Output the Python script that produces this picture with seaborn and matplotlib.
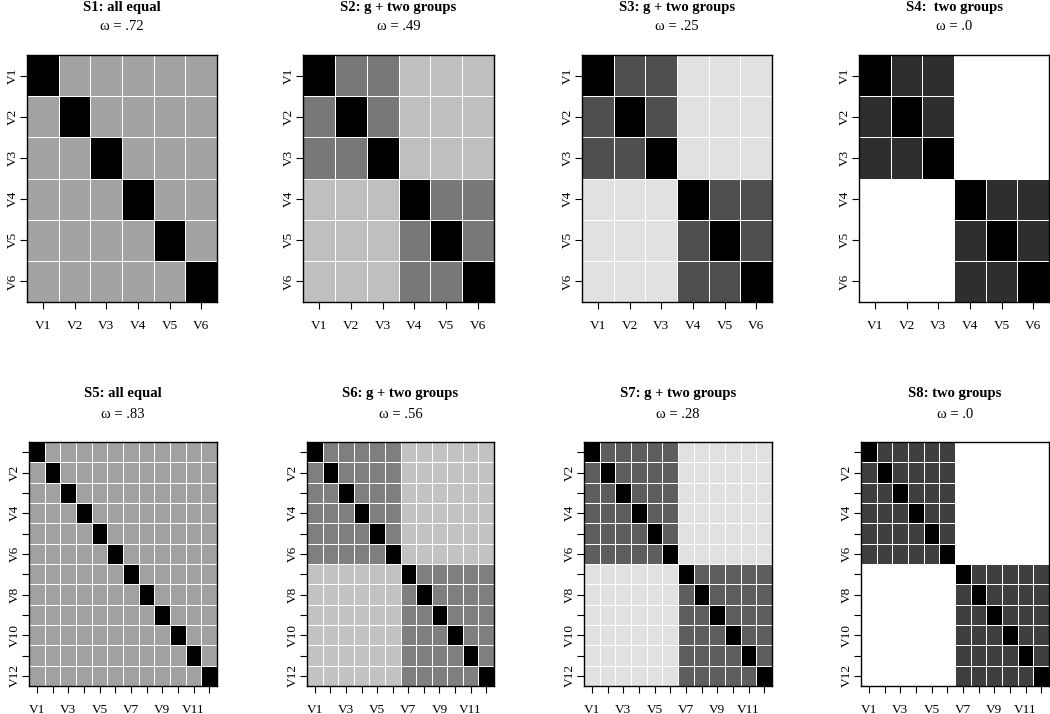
import numpy as np
import pandas as pd
import matplotlib
matplotlib.use("Agg")
import matplotlib.pyplot as plt
import seaborn as sns

plt.rcParams['font.family'] = ['Liberation Serif', 'DejaVu Serif']

# --- data: correlation structures ---
titles = ["S1: all equal", "S2: g + two groups", "S3: g + two groups", "S4:  two groups",
          "S5: all equal", "S6: g + two groups", "S7: g + two groups", "S8: two groups"]
omegas = [".72", ".49", ".25", ".0", ".83", ".56", ".28", ".0"]
n_vars = [6, 6, 6, 6, 12, 12, 12, 12]
r_within = [0.36, 0.53, 0.69, 0.82, 0.37, 0.50, 0.63, 0.75]
r_between = [0.36, 0.25, 0.12, 0.00, 0.37, 0.24, 0.12, 0.00]


def corr_matrix(n, rw, rb):
    half = n // 2
    grp = np.array([0] * half + [1] * (n - half))
    m = np.where(grp[:, None] == grp[None, :], rw, rb)
    np.fill_diagonal(m, 1.0)
    names = [f"V{i + 1}" for i in range(n)]
    return pd.DataFrame(m, index=names, columns=names)


W, H = 1050, 714
fig = plt.figure(figsize=(W / 100, H / 100), dpi=100)

# panel boxes in pixels: left, top, width, height
boxes = [(27, 55, 190, 247), (303, 55, 191, 247), (582, 55, 190, 247), (859, 55, 190, 247),
         (29, 442, 188, 244), (307, 442, 187, 244), (584, 442, 188, 244), (861, 442, 188, 244)]

for k in range(8):
    l, t, w, h = boxes[k]
    ax = fig.add_axes([l / W, 1 - (t + h) / H, w / W, h / H])
    df = corr_matrix(n_vars[k], r_within[k], r_between[k])
    n = n_vars[k]
    if n > 6:
        xlabs = [c if i % 2 == 0 else "" for i, c in enumerate(df.columns)]
        ylabs = [c if i % 2 == 1 else "" for i, c in enumerate(df.index)]
    else:
        xlabs = list(df.columns)
        ylabs = list(df.index)
    sns.heatmap(df, cmap="gray_r", vmin=0, vmax=1, cbar=False,
                linewidths=0.7, linecolor="white",
                xticklabels=xlabs, yticklabels=ylabs, ax=ax)
    for s in ax.spines.values():
        s.set_visible(True)
        s.set_color("black")
        s.set_linewidth(1.0)
    ax.tick_params(axis="both", length=5, width=0.8, color="black", labelsize=9.5)
    ax.tick_params(axis="x", pad=8)
    ax.tick_params(axis="y", pad=1)
    plt.setp(ax.get_xticklabels(), rotation=0)
    plt.setp(ax.get_yticklabels(), rotation=90, va="center")
    ax.set_xlabel("")
    ax.set_ylabel("")

    ax.annotate(titles[k], xy=(0.5, 1), xycoords="axes fraction",
                xytext=(0, 48), textcoords="offset pixels",
                ha="center", va="center", fontsize=10.5, fontweight="bold")
    ax.annotate("\u03c9 = " + omegas[k], xy=(0.5, 1), xycoords="axes fraction",
                xytext=(0, 28), textcoords="offset pixels",
                ha="center", va="center", fontsize=10.5)

fig.savefig("out.png", dpi=100)
